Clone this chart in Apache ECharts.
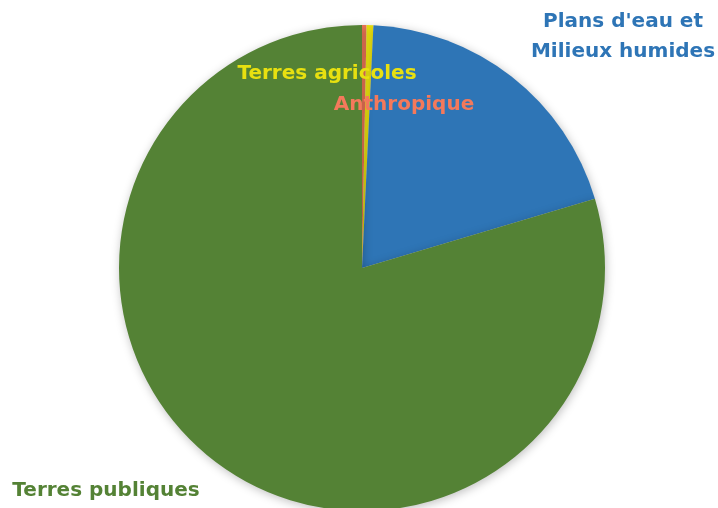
<!DOCTYPE html>
<html><head><meta charset="utf-8">
<script src="https://cdn.jsdelivr.net/npm/echarts@6/dist/echarts.min.js"></script>
<style>html,body{margin:0;padding:0;background:#fff}#c{width:718px;height:508px}</style>
</head><body><div id="c"></div>
<script>
const categories = ["Anthropique", "Terres agricoles", "Plans d'eau et\nMilieux humides", "Terres publiques"];
const values = [0.3, 0.45, 19.65, 79.6];
const colors = ["#f4795b", "#e8e010", "#2e75b6", "#548235"];
// label anchor points (text centers) for each category
const labelPos = [[404, 105], [327, 74], [623, 37], [106, 491]];

const chart = echarts.init(document.getElementById('c'));
chart.setOption({
  animation: false,
  series: [{
    type: 'pie',
    center: [362, 268],
    radius: 243,
    startAngle: 90,
    clockwise: true,
    avoidLabelOverlap: false,
    itemStyle: { shadowBlur: 10, shadowColor: 'rgba(0,0,0,0.25)', shadowOffsetX: 1, shadowOffsetY: 2 },
    label: {
      show: true, formatter: '{b}', fontFamily: 'DejaVu Sans', fontWeight: 'bold', fontSize: 20, lineHeight: 30
    },
    labelLine: { show: false },
    labelLayout: function (p) {
      const pos = labelPos[p.dataIndex];
      return { x: pos[0], y: pos[1], align: 'center', verticalAlign: 'middle' };
    },
    data: categories.map((c, i) => ({
      name: c, value: values[i],
      itemStyle: { color: colors[i] },
      label: { color: colors[i] }
    }))
  }]
});
</script></body></html>
